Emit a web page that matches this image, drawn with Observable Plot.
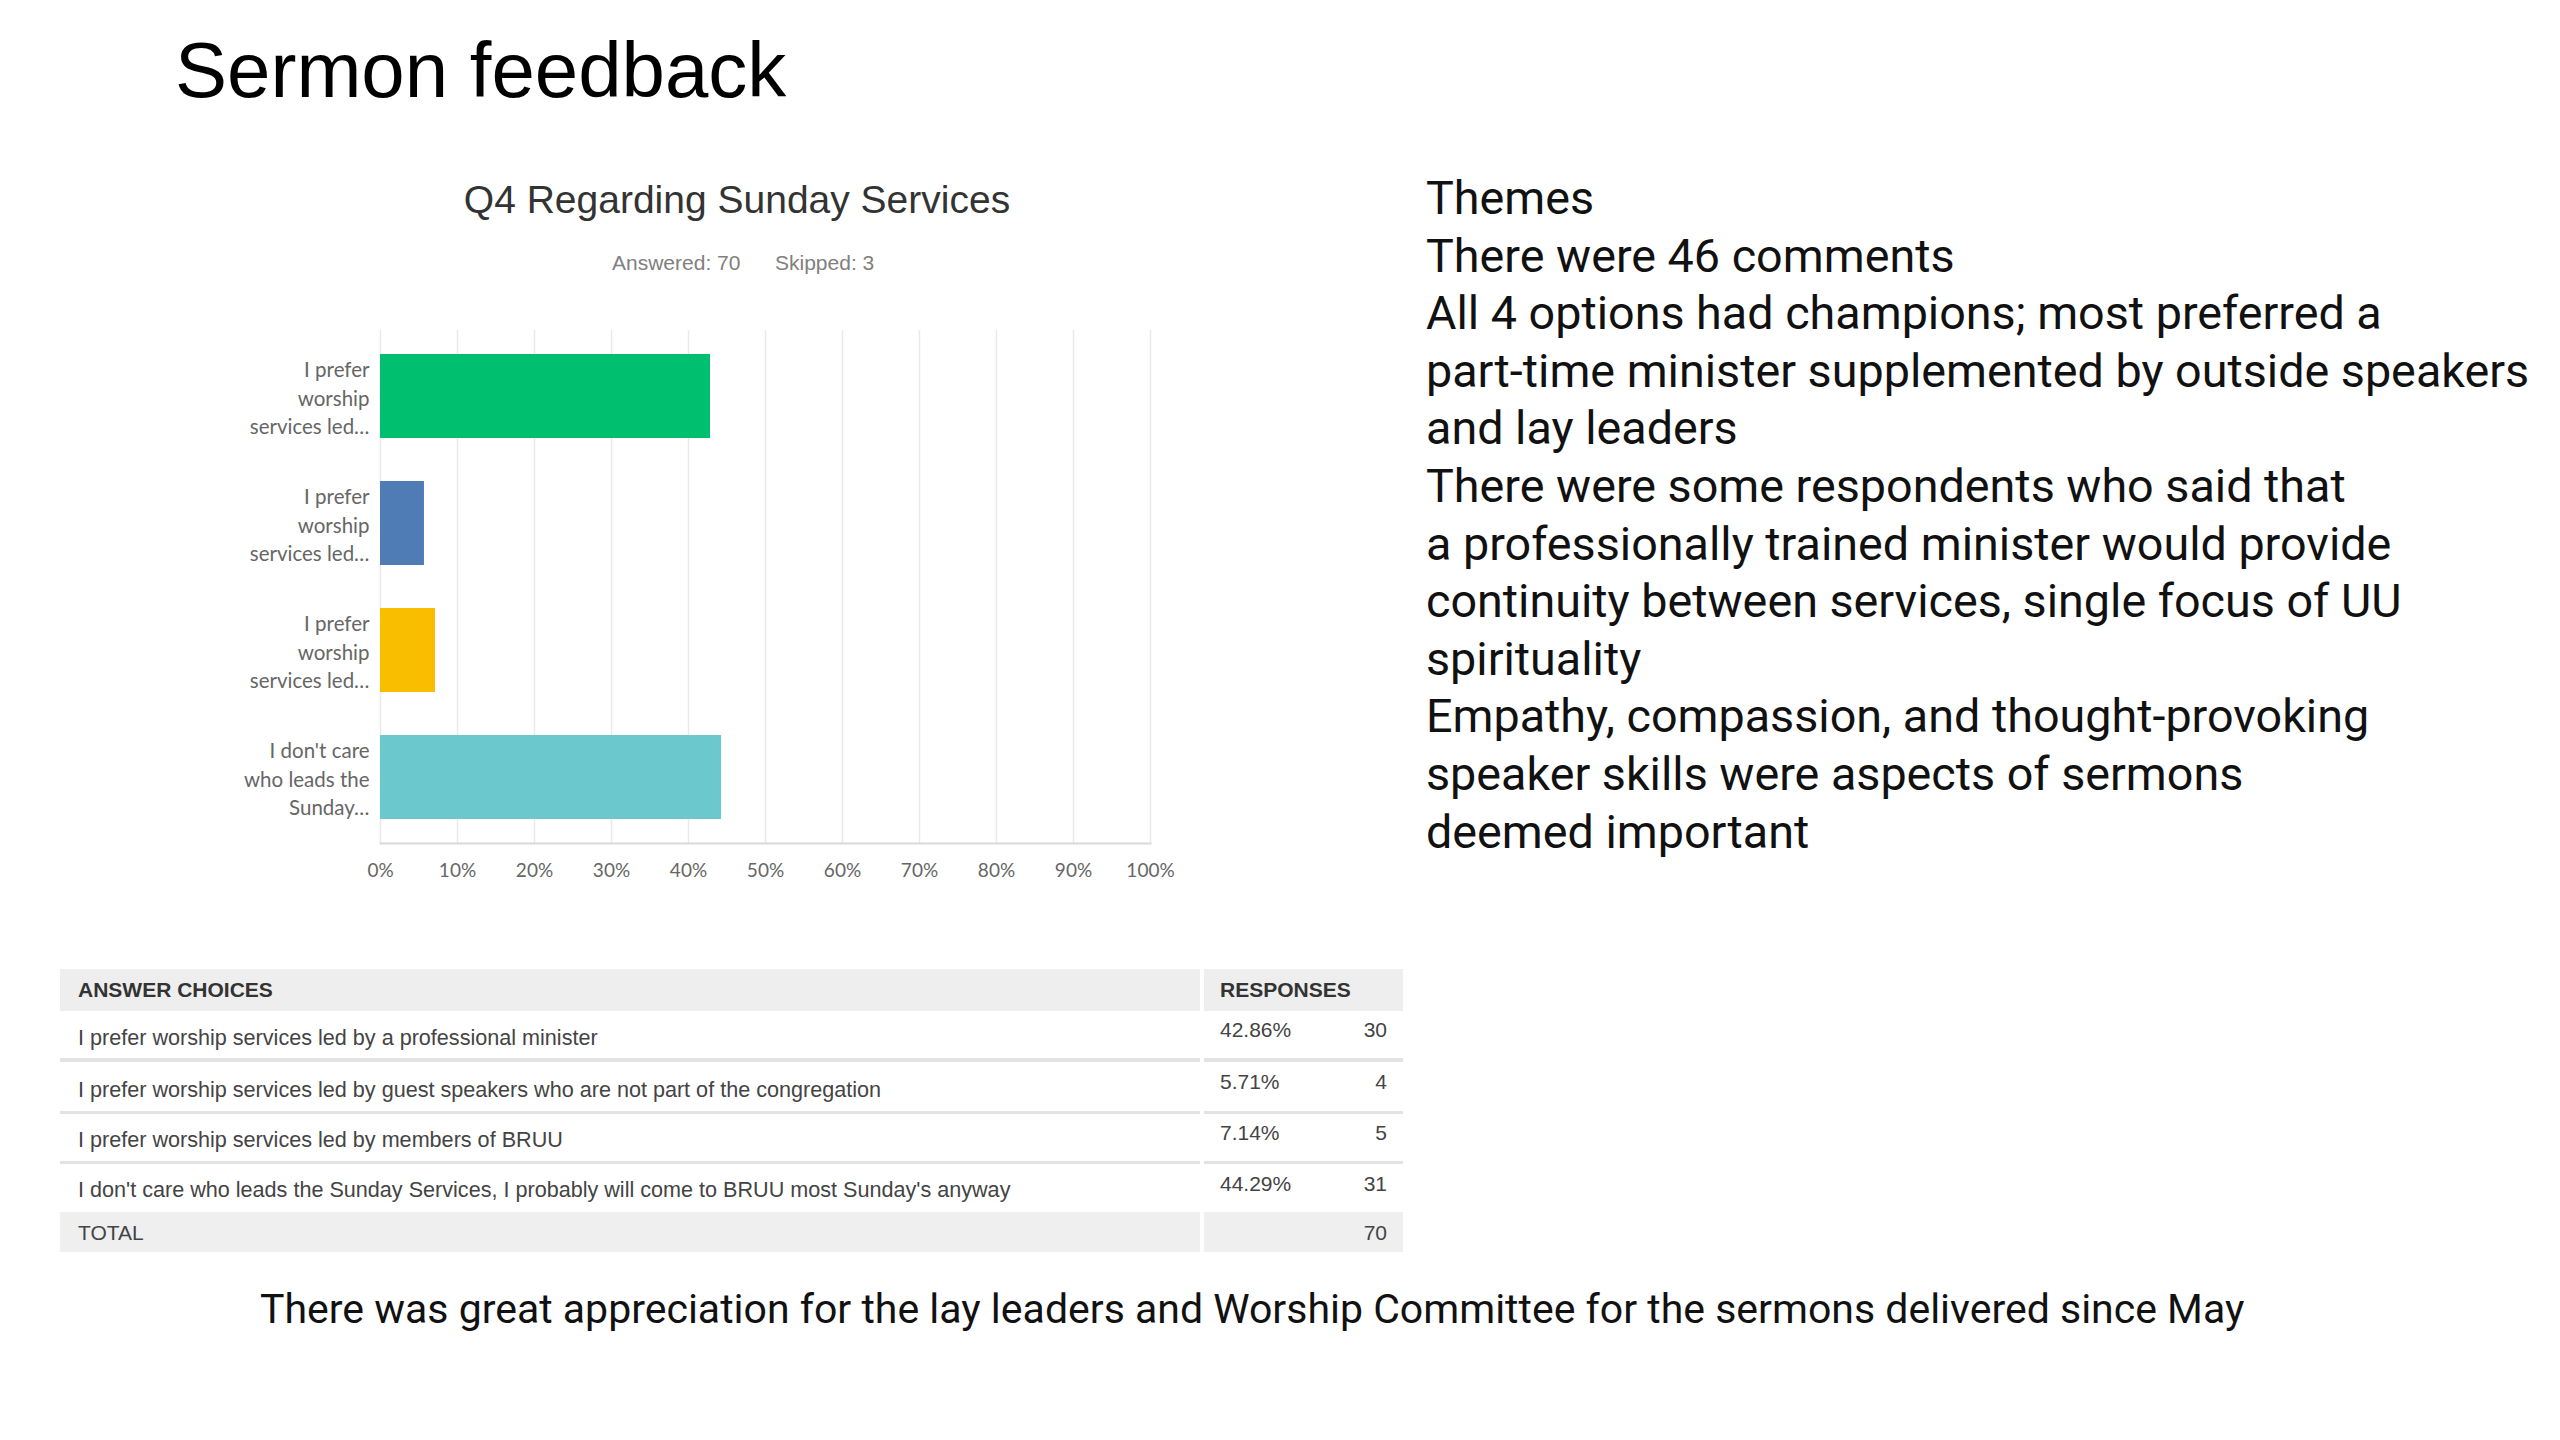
<!DOCTYPE html>
<html><head><meta charset="utf-8">
<script src="https://cdn.jsdelivr.net/npm/d3@7"></script>
<script src="https://cdn.jsdelivr.net/npm/@observablehq/plot@0.6"></script>
<style>
html,body{margin:0;padding:0;background:#fff;}
body{width:2560px;height:1440px;position:relative;overflow:hidden;}
.t{position:absolute;white-space:pre;margin:0;line-height:normal;}
.bg{position:absolute;}
</style></head><body>
<script>
// ---------- data ----------
const slideTitle = "Sermon feedback";
const chartTitle = "Q4 Regarding Sunday Services";
const answeredText = "Answered: 70";
const skippedText = "Skipped: 3";
const choices = [
  "I prefer worship services led by a professional minister",
  "I prefer worship services led by guest speakers who are not part of the congregation",
  "I prefer worship services led by members of BRUU",
  "I don't care who leads the Sunday Services, I probably will come to BRUU most Sunday's anyway"
];
const axisLabels = [
  "I prefer\nworship\nservices led…",
  "I prefer\nworship\nservices led…",
  "I prefer\nworship\nservices led…",
  "I don't care\nwho leads the\nSunday…"
];
const percents = [42.86, 5.71, 7.14, 44.29];
const counts = [30, 4, 5, 31];
const totalCount = 70;
const barColors = ["#00BF6F", "#507CB6", "#F9BE00", "#6BC8CD"];
const xTicks = [0, 10, 20, 30, 40, 50, 60, 70, 80, 90, 100];
const tableHeaders = ["ANSWER CHOICES", "RESPONSES"];
const totalLabel = "TOTAL";
const themeLines = [
  "Themes",
  "There were 46 comments",
  "All 4 options had champions; most preferred a",
  "part-time minister supplemented by outside speakers",
  "and lay leaders",
  "There were some respondents who said that",
  "a professionally trained minister would provide",
  "continuity between services, single focus of UU",
  "spirituality",
  "Empathy, compassion, and thought-provoking",
  "speaker skills were aspects of sermons",
  "deemed important"
];
const footnote = "There was great appreciation for the lay leaders and Worship Committee for the sermons delivered since May";

// ---------- helpers ----------
function addText(str, o) {
  const el = document.createElement("div");
  el.className = "t";
  el.style.font = `${o.weight || 400} ${o.size}px ${o.family}`;
  el.style.color = o.color || "#000";
  const span = document.createElement("span");
  span.textContent = str;
  const mark = document.createElement("span");
  mark.style.display = "inline-block"; mark.style.width = "0px"; mark.style.height = "0px";
  el.append(span, mark);
  el.style.left = "0px"; el.style.top = "0px";
  document.body.appendChild(el);
  const b = mark.offsetTop;
  const w = span.getBoundingClientRect().width;
  let left = o.x;
  if (o.anchor === "middle") left = o.x - w / 2;
  else if (o.anchor === "end") left = o.x - w;
  el.style.left = left + "px";
  el.style.top = (o.baseline - b) + "px";
  return el;
}
function addBox(x, y, w, h, color) {
  const d = document.createElement("div");
  d.className = "bg";
  Object.assign(d.style, {left: x + "px", top: y + "px", width: w + "px", height: h + "px", background: color});
  document.body.appendChild(d);
}

const ARIAL = "'Liberation Sans', Arial, sans-serif";
const APTOS = "Roboto, 'Noto Sans', sans-serif";

// ---------- slide title ----------
addText(slideTitle, {x: 175, baseline: 97, size: 78, family: ARIAL, color: "#000"});

// ---------- chart header ----------
addText(chartTitle, {x: 737, baseline: 213, size: 39, family: ARIAL, color: "#333", anchor: "middle"});
addText(answeredText, {x: 612, baseline: 270, size: 21, family: ARIAL, color: "#808080"});
addText(skippedText, {x: 775, baseline: 270, size: 21, family: ARIAL, color: "#808080"});

// ---------- chart ----------
const data = choices.map((c, i) => ({choice: c, label: axisLabels[i], pct: percents[i]}));
const chart = Plot.plot({
  width: 1200, height: 600,
  marginLeft: 380, marginRight: 50, marginTop: 30, marginBottom: 57,
  style: {fontFamily: "Lato, sans-serif", fontSize: "19px", color: "#666", background: "transparent", overflow: "visible"},
  x: {domain: [0, 100]},
  y: {domain: choices, paddingInner: 0.34, paddingOuter: 0.18, axis: null},
  color: {domain: choices, range: barColors},
  marks: [
    Plot.gridX({ticks: xTicks, stroke: "#e9e9e9", strokeOpacity: 1, strokeWidth: 1.5}),
    Plot.barX(data, {x: "pct", y: "choice", fill: "choice"}),
    Plot.frame({anchor: "bottom", stroke: "#d9d9d9", strokeWidth: 2}),
    Plot.axisX({ticks: xTicks, tickSize: 0, tickPadding: 20, tickFormat: d => d + "%", label: null, fontSize: 19}),
    Plot.text(data, {y: "choice", text: "label", frameAnchor: "left", dx: -11, textAnchor: "end", lineHeight: 1.38, fontSize: 20.5, fill: "#666"})
  ]
});
chart.style.position = "absolute";
chart.style.left = "0px";
chart.style.top = "300px";
document.body.appendChild(chart);

// ---------- table ----------
const L = 60, MID = 1200, R0 = 1204, R1 = 1403;
const boxBoth = (y, h, c) => { addBox(L, y, MID - L, h, c); addBox(R0, y, R1 - R0, h, c); };
boxBoth(969, 42, "#eeeeee");
boxBoth(1058, 4, "#e3e3e3");
boxBoth(1111, 3, "#e3e3e3");
boxBoth(1161, 3, "#e3e3e3");
boxBoth(1212, 40, "#efefef");
addText(tableHeaders[0], {x: 78, baseline: 997, size: 21, weight: 700, family: ARIAL, color: "#333"});
addText(tableHeaders[1], {x: 1220, baseline: 997, size: 21, weight: 700, family: ARIAL, color: "#333"});
const textBase = [1045, 1097, 1147, 1197];
const numBase = [1037, 1089, 1140, 1191];
choices.forEach((c, i) => {
  addText(c, {x: 78, baseline: textBase[i], size: 21.6, family: ARIAL, color: "#444"});
  addText(percents[i].toFixed(2) + "%", {x: 1220, baseline: numBase[i], size: 21, family: ARIAL, color: "#444"});
  addText(String(counts[i]), {x: 1387, baseline: numBase[i], size: 21, family: ARIAL, color: "#444", anchor: "end"});
});
addText(totalLabel, {x: 78, baseline: 1240, size: 21, family: ARIAL, color: "#444"});
addText(String(totalCount), {x: 1387, baseline: 1240, size: 21, family: ARIAL, color: "#444", anchor: "end"});

// ---------- themes ----------
themeLines.forEach((line, i) => {
  addText(line, {x: 1426, baseline: 214 + i * 57.6, size: 46.7, family: APTOS, color: "#111"});
});

// ---------- footnote ----------
addText(footnote, {x: 260, baseline: 1323, size: 41, family: APTOS, color: "#111"});
</script>
</body></html>
